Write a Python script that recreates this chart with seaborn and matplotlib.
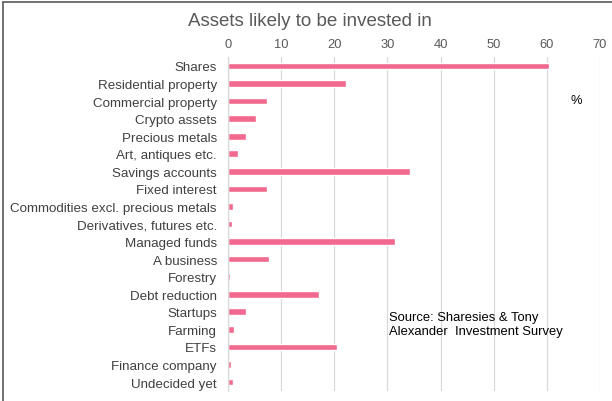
import matplotlib
matplotlib.use("Agg")
import matplotlib.pyplot as plt
import seaborn as sns
import pandas as pd

categories = [
    "Shares", "Residential property", "Commercial property", "Crypto assets",
    "Precious metals", "Art, antiques etc.", "Savings accounts", "Fixed interest",
    "Commodities excl. precious metals", "Derivatives, futures etc.",
    "Managed funds", "A business", "Forestry", "Debt reduction", "Startups",
    "Farming", "ETFs", "Finance company", "Undecided yet",
]
values = [60.4, 22.2, 7.3, 5.3, 3.3, 1.8, 34.3, 7.3, 0.9, 0.75,
          31.4, 7.7, 0.4, 17.1, 3.3, 1.1, 20.6, 0.6, 1.0]
x_ticks = [0, 10, 20, 30, 40, 50, 60, 70]

df = pd.DataFrame({"asset": categories, "pct": values})

sns.set_theme(style="white")
plt.rcParams["font.family"] = ["Liberation Sans", "DejaVu Sans"]

W, H = 612, 402
fig = plt.figure(figsize=(W / 100, H / 100), dpi=100)
ax = fig.add_axes([228 / W, 1 - 391.8 / H, (600 - 228) / W, (391.8 - 58.2) / H])

sns.barplot(data=df, x="pct", y="asset", orient="h", color="#F2698F",
            saturation=1, width=0.38, ax=ax)

ax.set_xlim(0, 70)
ax.set_xticks(x_ticks)
ax.xaxis.tick_top()
ax.tick_params(axis="x", length=0, pad=5, labelsize=9.3, labelcolor="#595959")
ax.tick_params(axis="y", length=0, pad=8, labelsize=9.6, labelcolor="#404040")
ax.set_xlabel("")
ax.set_ylabel("")
ax.grid(axis="x", color="#D9D9D9", linewidth=0.9)
ax.set_axisbelow(True)
for side in ["top", "right", "bottom"]:
    ax.spines[side].set_visible(False)
ax.spines["left"].set_color("#D9D9D9")
ax.spines["left"].set_linewidth(0.9)

fig.text(310 / W, 1 - 21 / H, "Assets likely to be invested in", ha="center",
         va="center", fontsize=13.5, color="#595959")
fig.text(576 / W, 1 - 101 / H, "%", ha="center", va="center", fontsize=9.3,
         color="#000000")
fig.text(389 / W, 1 - 325 / H, "Source: Sharesies & Tony\nAlexander  Investment Survey",
         ha="left", va="center", fontsize=9.4, color="#000000", linespacing=1.3)

# outer frame of the chart area
fig.add_artist(plt.Line2D([3 / W, 3 / W], [0, 1 - 3 / H], transform=fig.transFigure,
                          color="#595959", linewidth=1.2))
fig.add_artist(plt.Line2D([3 / W, 1], [1 - 3 / H, 1 - 3 / H], transform=fig.transFigure,
                          color="#595959", linewidth=1.2))

fig.savefig("out.png", dpi=100)
